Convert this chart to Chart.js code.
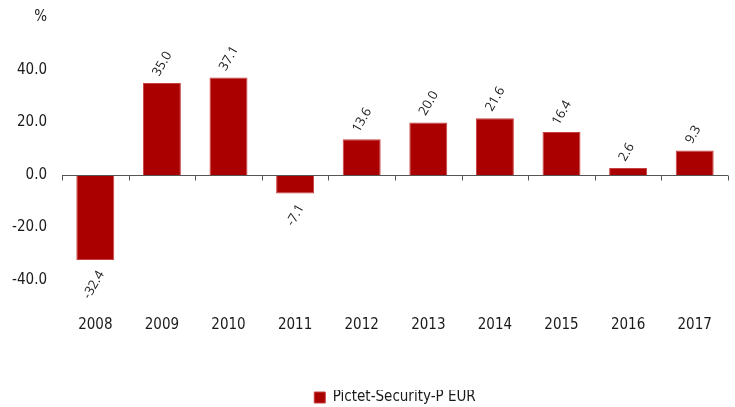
<!DOCTYPE html>
<html>
<head>
<meta charset="utf-8">
<script src="https://cdn.jsdelivr.net/npm/chart.js@4/dist/chart.umd.min.js"></script>
<style>
  html, body { margin: 0; padding: 0; background: #fff; }
  #wrap { width: 735px; height: 407px; }
</style>
</head>
<body>
<div id="wrap"><canvas id="perfChart" width="735" height="407"></canvas></div>
<script>
  // data
  const years = ['2008', '2009', '2010', '2011', '2012', '2013', '2014', '2015', '2016', '2017'];
  const returns = [-32.4, 35.0, 37.1, -7.1, 13.6, 20.0, 21.6, 16.4, 2.6, 9.3];
  const seriesName = 'Pictet-Security-P EUR';
  const yTicks = [-40, -20, 0, 20, 40];

  const barColor = '#aa0000';
  const axisFont = "'Liberation Sans Narrow', 'DejaVu Sans Condensed', sans-serif";

  // zero line with small ticks between categories
  const zeroAxis = {
    id: 'zeroAxis',
    afterDatasetsDraw(chart) {
      const { ctx, chartArea, scales } = chart;
      const y0 = Math.round(scales.y.getPixelForValue(0)) + 0.5;
      const step = (chartArea.right - chartArea.left) / years.length;
      ctx.save();
      ctx.strokeStyle = '#555';
      ctx.lineWidth = 1;
      ctx.beginPath();
      ctx.moveTo(chartArea.left, y0);
      ctx.lineTo(chartArea.right, y0);
      for (let i = 0; i <= years.length; i++) {
        const x = Math.round(chartArea.left + i * step) + 0.5;
        ctx.moveTo(x, y0);
        ctx.lineTo(x, y0 + 5);
      }
      ctx.stroke();
      ctx.restore();
    }
  };

  // rotated value labels
  const valueLabels = {
    id: 'valueLabels',
    afterDatasetsDraw(chart) {
      const { ctx } = chart;
      const meta = chart.getDatasetMeta(0);
      ctx.save();
      ctx.fillStyle = '#222';
      ctx.font = "13px 'Open Sans', sans-serif";
      ctx.textBaseline = 'middle';
      meta.data.forEach((bar, i) => {
        const v = returns[i];
        ctx.save();
        if (v >= 0) {
          ctx.translate(bar.x - 6, bar.y - 8);
          ctx.rotate(-Math.PI / 3);
          ctx.textAlign = 'left';
        } else {
          ctx.translate(bar.x + 6, bar.y + 12);
          ctx.rotate(-Math.PI / 3);
          ctx.textAlign = 'right';
        }
        ctx.fillText(v.toFixed(1), 0, 0);
        ctx.restore();
      });
      ctx.restore();
    }
  };

  const ctx = document.getElementById('perfChart').getContext('2d');
  const chart = new Chart(ctx, {
    type: 'bar',
    data: {
      labels: years,
      datasets: [{
        label: seriesName,
        data: returns,
        backgroundColor: barColor,
        borderColor: '#c84040',
        borderWidth: 1,
        barPercentage: 0.57,
        categoryPercentage: 1.0
      }]
    },
    options: {
      responsive: false,
      animation: false,
      layout: { padding: { left: 0, right: 7, top: 17.5, bottom: -8 } },
      scales: {
        x: {
          grid: { display: false, drawTicks: false },
          border: { display: false },
          ticks: { color: '#1a1a1a', font: { family: axisFont, size: 15 }, padding: 2 },
          afterFit: scale => { scale.height = 76; }
        },
        y: {
          min: -53,
          max: 60,
          grid: { display: false, drawTicks: false },
          border: { display: false },
          ticks: {
            color: '#1a1a1a',
            font: { family: axisFont, size: 15 },
            padding: 15,
            stepSize: 20,
            callback: v => (v === 60 ? '%' : yTicks.includes(v) ? v.toFixed(1) : '')
          },
          afterFit: scale => {
            scale.width = 62;
            scale.paddingTop = 0;
            scale.paddingBottom = 0;
          }
        }
      },
      plugins: {
        legend: {
          position: 'bottom',
          fullSize: false,
          labels: {
            color: '#1a1a1a',
            font: { family: axisFont, size: 15 },
            boxWidth: 11,
            boxHeight: 11,
            padding: 0
          }
        },
        tooltip: { enabled: false }
      }
    },
    plugins: [zeroAxis, valueLabels]
  });
</script>
</body>
</html>
